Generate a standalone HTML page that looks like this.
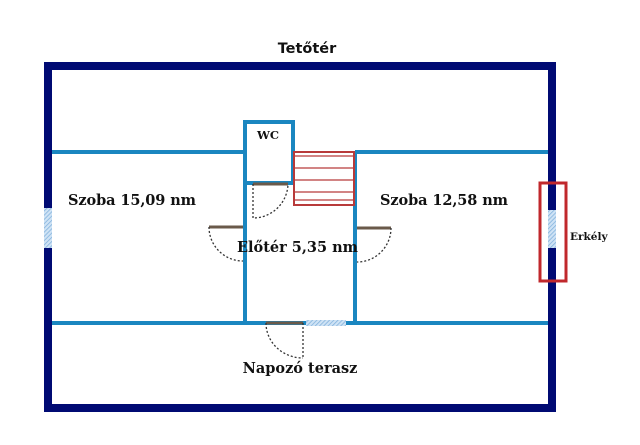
<!DOCTYPE html>
<html><head><meta charset="utf-8"><style>body{margin:0;background:#fff}</style></head><body>
<svg width="640" height="440" xmlns="http://www.w3.org/2000/svg">
<defs><pattern id="h" width="3" height="3" patternUnits="userSpaceOnUse" patternTransform="rotate(45)"><rect width="3" height="3" fill="#cfe3f5"/><line x1="0" y1="0" x2="0" y2="3" stroke="#7fb0dc" stroke-width="1.5"/></pattern></defs>
<rect x="48" y="66" width="504" height="342" fill="none" stroke="#000a73" stroke-width="8"/>
<g stroke="#1a86c0" stroke-width="4" fill="none">
<line x1="52" y1="152" x2="245" y2="152"/><line x1="355" y1="152" x2="548" y2="152"/>
<line x1="52" y1="323" x2="548" y2="323"/>
<line x1="245" y1="122" x2="245" y2="323"/><line x1="355" y1="152" x2="355" y2="323"/>
<rect x="245" y="122" width="48" height="61"/>
</g>
<g stroke="#b83a3a" fill="none"><rect x="294" y="152" width="60" height="53" stroke-width="2"/>
<g stroke-width="1.2"><line x1="294" y1="156" x2="354" y2="156"/><line x1="294" y1="168" x2="354" y2="168"/><line x1="294" y1="180" x2="354" y2="180"/><line x1="294" y1="192" x2="354" y2="192"/><line x1="294" y1="200" x2="354" y2="200"/></g></g>
<rect x="44" y="208" width="8" height="40" fill="url(#h)"/>
<rect x="548" y="210" width="8" height="38" fill="url(#h)"/>
<rect x="306" y="320" width="40" height="6" fill="url(#h)"/>
<g stroke="#6a5a4a" stroke-width="3"><line x1="253" y1="184" x2="288" y2="184"/><line x1="209" y1="227" x2="243" y2="227"/><line x1="357" y1="228" x2="391" y2="228"/><line x1="266" y1="323" x2="303" y2="323"/></g>
<g stroke="#333" stroke-width="1.3" fill="none" stroke-dasharray="2,2">
<path d="M253 184 V218 A35 35 0 0 0 288 184"/>
<path d="M209 227 A34 34 0 0 0 243 261"/>
<path d="M391 228 A34 34 0 0 1 357 262"/>
<path d="M303 323 V358 M266 323 A37 35 0 0 0 303 358"/>
</g>
<rect x="540" y="183" width="26" height="98" fill="none" stroke="#c0282c" stroke-width="3"/>
<g font-weight="bold" fill="#111">
<text x="307" y="53" text-anchor="middle" font-family="DejaVu Sans, sans-serif" font-size="14.5">Tetőtér</text>
<g font-family="DejaVu Serif, serif" font-size="14.5">
<text x="68" y="205" textLength="128">Szoba 15,09 nm</text>
<text x="380" y="205" textLength="128">Szoba 12,58 nm</text>
<text x="237" y="252" textLength="121">Előtér 5,35 nm</text>
<text x="300" y="373" text-anchor="middle">Napozó terasz</text>
<text x="268" y="139" text-anchor="middle" font-size="11.5">WC</text>
<text x="570" y="240" font-size="10.5">Erkély</text>
</g></g>
</svg>
</body></html>
